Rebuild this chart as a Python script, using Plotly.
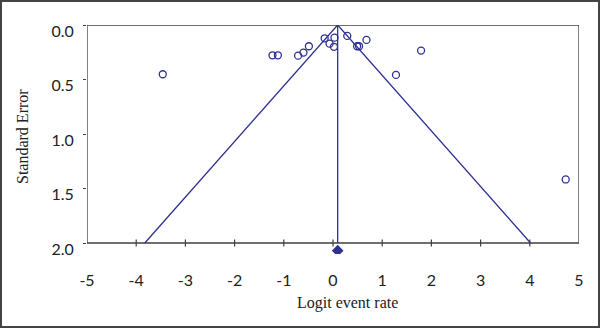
import plotly.graph_objects as go

# Study-level data (logit event rate vs standard error)
logit_rate = [-3.46, -1.23, -1.12, -0.71, -0.60, -0.49, -0.17, -0.07, 0.03, 0.02,
              0.29, 0.49, 0.53, 0.68, 1.79, 1.28, 4.73]
std_error = [0.452, 0.278, 0.278, 0.281, 0.253, 0.195, 0.122, 0.171, 0.116, 0.200,
             0.100, 0.195, 0.195, 0.137, 0.235, 0.458, 1.417]

pooled = 0.095          # pooled logit event rate
se_max = 2.0            # bottom of funnel
z = 1.96
diamond_y = 2.07

x_ticks = [-5, -4, -3, -2, -1, 0, 1, 2, 3, 4, 5]
x_ticktext = ["-5", "-4", "-3", "-2", "-1", "0", "1", "2", "3", "4", "5"]
y_ticks = [0.0, 0.5, 1.0, 1.5, 2.0]
y_ticktext = ["0.0", "0.5", "1.0", "1.5", "2.0"]

blue = "#2e3192"
axis_col = "#404040"
text_col = "#222222"

fig = go.Figure()

# funnel lines
fig.add_trace(go.Scatter(
    x=[pooled - z * se_max, pooled, pooled + z * se_max],
    y=[se_max, 0, se_max],
    mode="lines", line=dict(color=blue, width=1.3),
    hoverinfo="skip", showlegend=False))
fig.add_trace(go.Scatter(
    x=[pooled, pooled], y=[0, se_max],
    mode="lines", line=dict(color=blue, width=1.3),
    hoverinfo="skip", showlegend=False))

# studies
fig.add_trace(go.Scatter(
    x=logit_rate, y=std_error, mode="markers",
    marker=dict(symbol="circle-open", size=7, color=blue, line=dict(width=1.3, color=blue)),
    showlegend=False))

# crossing tick marks on the bottom line
fig.add_trace(go.Scatter(
    x=x_ticks[1:-1], y=[se_max] * (len(x_ticks) - 2), mode="markers",
    marker=dict(symbol="line-ns", size=5, line=dict(width=1.2, color=axis_col)),
    hoverinfo="skip", showlegend=False))

# pooled diamond
fig.add_trace(go.Scatter(
    x=[pooled], y=[diamond_y], mode="markers",
    marker=dict(symbol="diamond", size=9, color=blue),
    showlegend=False))

W, H = 600, 328
px_per_se = 109.0
ml, mr, mt = 87, 21, 25
ph = 229
mb = H - mt - ph
pw = W - ml - mr
y_bottom = ph / px_per_se

fig.update_layout(
    width=W, height=H,
    margin=dict(l=ml, r=mr, t=mt, b=mb),
    paper_bgcolor="white", plot_bgcolor="white",
    font=dict(family="Lato, sans-serif", size=16, color=text_col),
    xaxis=dict(range=[-5, 5], tickvals=x_ticks, ticktext=x_ticktext,
               showgrid=False, zeroline=False, showline=False,
               ticks="", ticklabelstandoff=15,
               tickfont=dict(family="Lato, sans-serif", size=16, color=text_col)),
    yaxis=dict(range=[y_bottom, 0.0], tickvals=y_ticks, ticktext=y_ticktext,
               showgrid=False, zeroline=False, showline=False,
               ticks="outside", ticklen=3, tickcolor=axis_col, ticklabelstandoff=6,
               ticklabelshift=-6,
               tickfont=dict(family="Lato, sans-serif", size=16, color=text_col)),
    annotations=[
        dict(text="Logit event rate", xref="paper", yref="paper",
             x=(347 - ml) / pw, y=-(303 - (mt + ph)) / ph, showarrow=False,
             xanchor="center", yanchor="middle",
             font=dict(family="Liberation Serif, serif", size=16, color=text_col)),
        dict(text="Standard Error", xref="paper", yref="paper",
             x=-(ml - 22) / pw, y=1 - (137 - mt) / ph, showarrow=False, textangle=-90,
             xanchor="center", yanchor="middle",
             font=dict(family="Liberation Serif, serif", size=16, color=text_col)),
    ],
    shapes=[
        dict(type="rect", xref="x", yref="y", x0=-5, x1=5, y0=0, y1=se_max,
             line=dict(color=axis_col, width=1.3), layer="below"),
        dict(type="rect", xref="paper", yref="paper",
             x0=-(ml - 1) / pw, x1=1 + (mr - 1) / pw,
             y0=-(mb - 1) / ph, y1=1 + (mt - 1) / ph,
             line=dict(color="#444444", width=2), layer="above"),
    ],
)

fig.write_html("out.html", config={"displayModeBar": False},
               post_script="document.body.style.margin='0';")
